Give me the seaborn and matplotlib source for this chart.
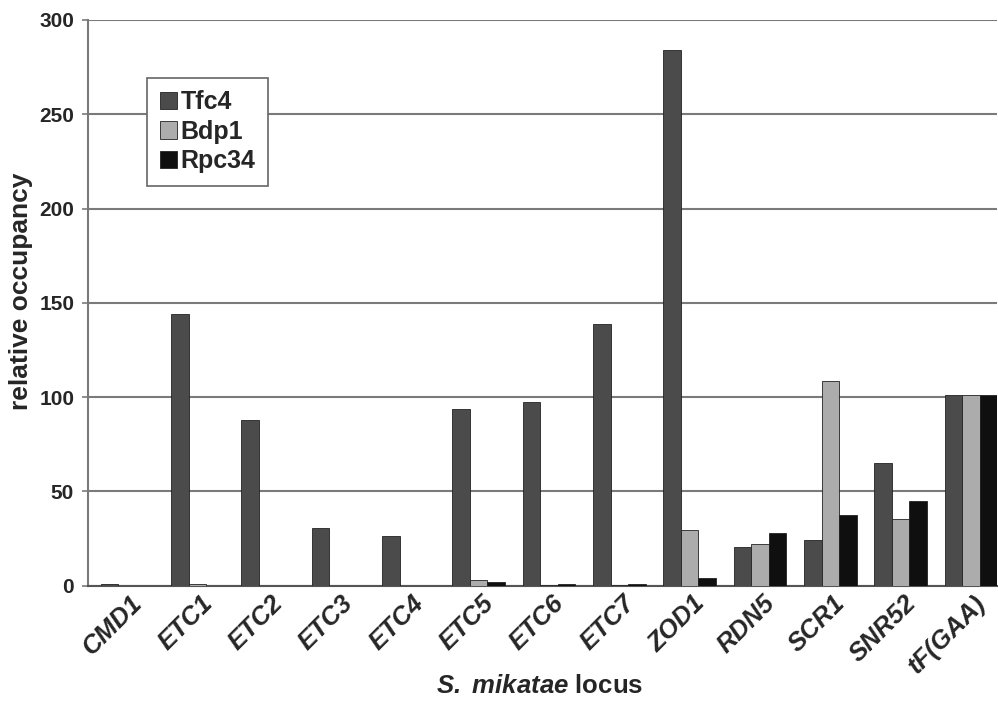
import matplotlib
matplotlib.use("Agg")
import matplotlib.pyplot as plt
import matplotlib.transforms as mtransforms
import seaborn as sns
import pandas as pd

loci = ["CMD1", "ETC1", "ETC2", "ETC3", "ETC4", "ETC5", "ETC6", "ETC7",
        "ZOD1", "RDN5", "SCR1", "SNR52", "tF(GAA)"]
tfc4 = [1.0, 144, 87.6, 30.7, 26.5, 93.6, 97.2, 139, 284, 20.7, 24.2, 65.2, 101]
bdp1 = [0.0, 0.7, 0.0, 0.0, 0.0, 3.0, 0.5, 0.5, 29.5, 21.9, 108.5, 35.5, 101]
rpc34 = [0.0, 0.0, 0.0, 0.0, 0.0, 2.0, 1.0, 1.0, 3.9, 27.8, 37.3, 44.7, 101]
series = ["Tfc4", "Bdp1", "Rpc34"]
colors = ["#4b4b4b", "#acacac", "#0f0f0f"]
yticks = [0, 50, 100, 150, 200, 250, 300]

df = pd.DataFrame({
    "locus": loci * 3,
    "protein": [s for s in series for _ in loci],
    "occupancy": tfc4 + bdp1 + rpc34,
})

sns.set_theme(style="white")
plt.rcParams["font.family"] = ["Liberation Sans", "DejaVu Sans"]
plt.rcParams["mathtext.fontset"] = "custom"
plt.rcParams["mathtext.bfit"] = "Liberation Sans:italic:bold"
plt.rcParams["mathtext.it"] = "Liberation Sans:italic"
plt.rcParams["mathtext.rm"] = "Liberation Sans"

fig = plt.figure(figsize=(9.98, 7.03), dpi=100)
ax = fig.add_axes([0.0882, 0.1669, 0.9108, 0.8047])

sns.barplot(data=df, x="locus", y="occupancy", hue="protein",
            hue_order=series, palette=colors, width=0.75,
            edgecolor="#222222", linewidth=0.6, ax=ax, zorder=3)

ax.set_ylim(0, 300)
ax.set_xlim(-0.555, 12.37)
ax.set_yticks(yticks)
ax.set_yticklabels([str(t) for t in yticks], fontsize=15, fontweight="bold")
ax.yaxis.grid(True, color="#7a7a7a", linewidth=1.5, zorder=0)
ax.set_axisbelow(True)

ax.tick_params(axis="y", length=4, width=1.2, color="#7a7a7a", pad=6, left=True)
ax.tick_params(axis="x", length=0, pad=4)

for side in ["top", "right"]:
    ax.spines[side].set_visible(False)
ax.spines["left"].set_color("#7a7a7a")
ax.spines["left"].set_linewidth(1.5)
ax.spines["bottom"].set_color("#555555")
ax.spines["bottom"].set_linewidth(1.5)

ax.set_xticks(range(len(loci)))
ax.set_xticklabels(loci, rotation=45, ha="right", rotation_mode="anchor",
                   fontsize=18.5, fontweight="bold", fontstyle="italic")
shift = mtransforms.ScaledTranslation(0.03, 0.0, fig.dpi_scale_trans)
for lbl in ax.get_xticklabels():
    lbl.set_transform(lbl.get_transform() + shift)

ax.set_ylabel("relative occupancy", fontsize=19, fontweight="bold")
ax.yaxis.set_label_coords(-0.0605, 0.52)
ax.set_xlabel(r"$\mathbfit{S.\ mikatae}$ locus", fontsize=18.5,
              fontweight="bold")
ax.xaxis.set_label_coords(0.497, -0.177)
ax.xaxis.label.set_va("center")

leg = ax.legend(loc="upper left", bbox_to_anchor=(0.0649, 0.8975),
                fontsize=18, frameon=True, fancybox=False,
                handlelength=0.7, handleheight=0.7, handletextpad=0.15,
                borderpad=0.5, labelspacing=0.22, borderaxespad=0)
leg.get_frame().set_edgecolor("#666666")
leg.get_frame().set_linewidth(1.2)
leg.get_frame().set_alpha(1)
for t in leg.get_texts():
    t.set_fontweight("bold")

fig.savefig("out.png", dpi=100, facecolor="white")
